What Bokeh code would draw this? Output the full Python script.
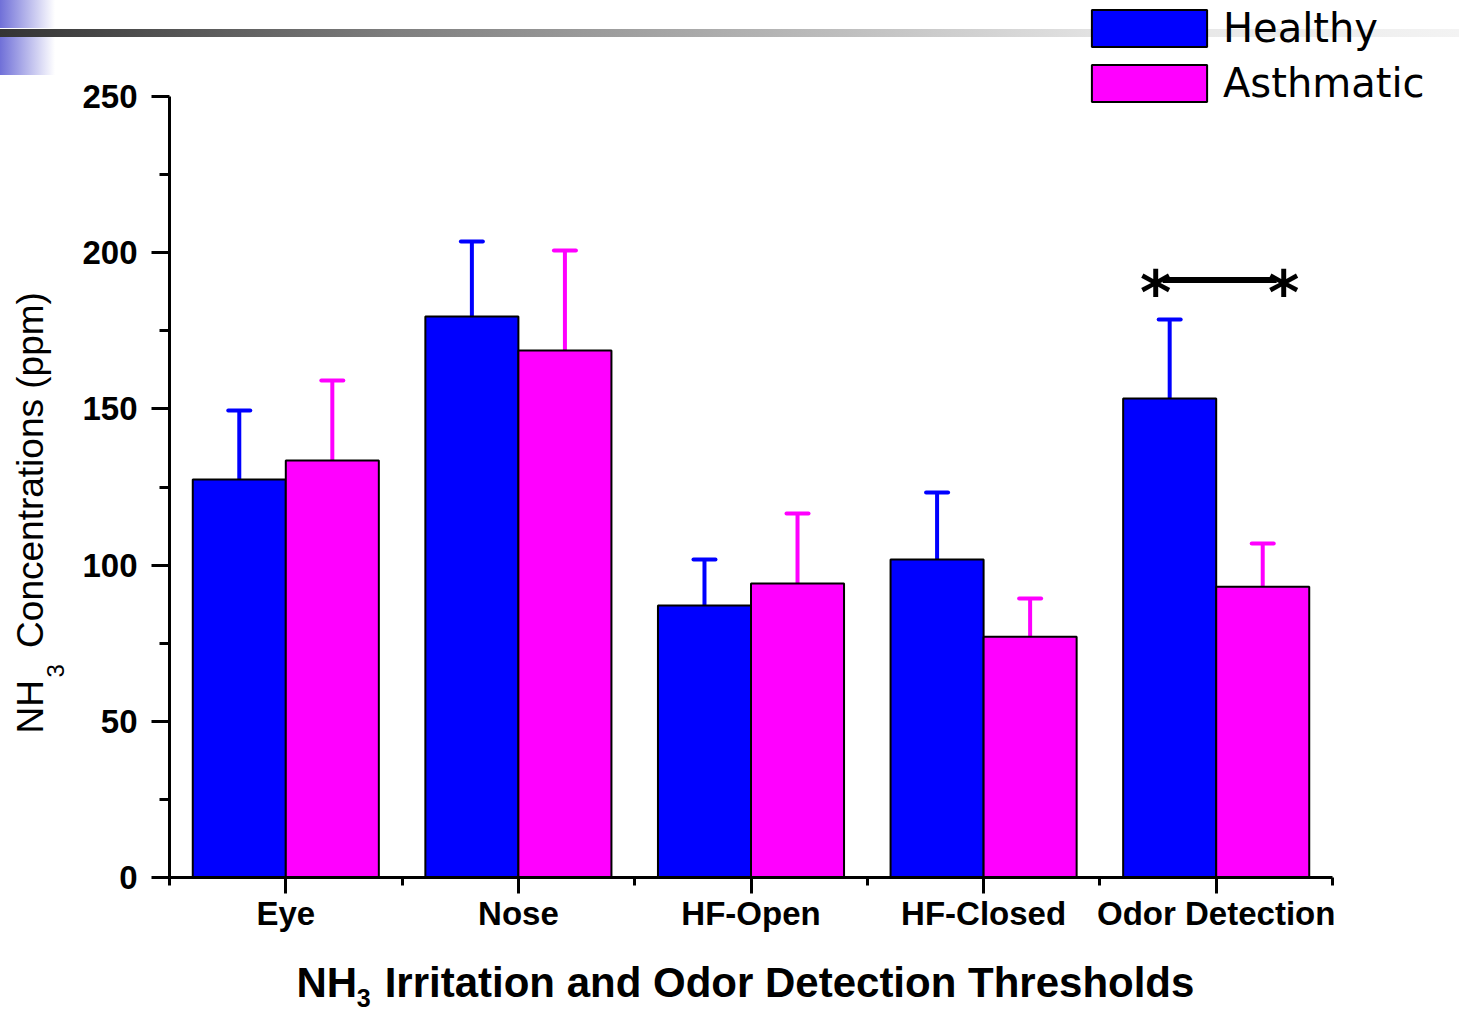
import numpy as np
from bokeh.plotting import figure
from bokeh.models import Range1d, FixedTicker, Label, Legend, LegendItem
from bokeh.core.properties import value
from bokeh.embed import file_html
from bokeh.resources import INLINE

# ---------------- data ----------------
categories = ["Eye", "Nose", "HF-Open", "HF-Closed", "Odor Detection"]
healthy = [127.4, 179.6, 87.1, 101.8, 153.3]
healthy_err = [22.1, 24.0, 14.7, 21.4, 25.3]
asthmatic = [133.5, 168.7, 94.1, 77.1, 93.1]
asthmatic_err = [25.6, 32.0, 22.4, 12.2, 13.8]
y_ticks = [0, 50, 100, 150, 200, 250]
y_minor_ticks = [25, 75, 125, 175, 225]
series_names = ["Healthy", "Asthmatic"]
sig_star_x = [4.74, 5.29]
sig_star_y = [187.0, 187.0]
sig_line_x = [4.77, 5.26]
sig_line_y = [191.3, 191.3]

BLUE = "#0000ff"
MAGENTA = "#ff00ff"
FONT = "Liberation Sans"

W, H = 1459, 1013
# pixel geometry of the plotting area inside the page
AX_L, AX_R, AX_T, AX_B = 169, 1332, 96, 877
x_lo, x_hi = 0.5, len(categories) + 0.5
y_lo, y_hi = 0, 250
sx = (AX_R - AX_L) / (x_hi - x_lo)
sy = (AX_B - AX_T) / (y_hi - y_lo)
x_range = Range1d(x_lo - AX_L / sx, x_hi + (W - AX_R) / sx)
y_range = Range1d(y_lo - (H - AX_B) / sy, y_hi + AX_T / sy)

pos = np.arange(1, len(categories) + 1)
bar_w = 0.4
xh = pos - bar_w / 2
xa = pos + bar_w / 2
h_top = np.array(healthy) + np.array(healthy_err)
a_top = np.array(asthmatic) + np.array(asthmatic_err)

p = figure(width=W, height=H, x_range=x_range, y_range=y_range,
           output_backend="svg", toolbar_location=None, min_border=0)

p.background_fill_color = None
p.border_fill_color = None
p.outline_line_color = None
p.grid.visible = False

# slide decoration behind the transparent canvas
p.styles = {
    "background": (
        "linear-gradient(to right, #343434 0px, #7f7f7f 400px, #e3e3e3 1100px, #f3f3f3 1459px) 0px 29px / 100% 8px no-repeat, "
        "linear-gradient(to right, #7070d8, #ffffff) 0px 0px / 55px 28px no-repeat, "
        "linear-gradient(to right, #7070d8, #ffffff) 0px 37px / 55px 38px no-repeat, "
        "#ffffff"
    )
}

# error bars (drawn first so bar outlines sit on top)
p.segment(x0=xh, y0=healthy, x1=xh, y1=h_top, line_color=BLUE, line_width=4)
p.segment(x0=xa, y0=asthmatic, x1=xa, y1=a_top, line_color=MAGENTA, line_width=4)
p.scatter(x=xh, y=h_top, marker="dash", size=22, line_color=BLUE, line_width=4, line_cap="round")
p.scatter(x=xa, y=a_top, marker="dash", size=22, line_color=MAGENTA, line_width=4, line_cap="round")

rh = p.vbar(x=xh, width=bar_w, top=healthy, bottom=0, fill_color=BLUE,
            line_color="black", line_width=2)
ra = p.vbar(x=xa, width=bar_w, top=asthmatic, bottom=0, fill_color=MAGENTA,
            line_color="black", line_width=2)

# significance marker
p.line(x=sig_line_x, y=sig_line_y, line_color="black", line_width=6)
p.text(x=sig_star_x, y=sig_star_y, text=["*", "*"], text_font=value("DejaVu Sans"),
       text_font_size="60px", text_font_style="bold", text_align="center",
       text_baseline="middle", text_color="black")

# axes (pinned to the data origin, line limited to the data extent)
xaxis = p.xaxis[0]
xaxis.fixed_location = y_lo
xaxis.bounds = (x_lo, x_hi)
xaxis.ticker = FixedTicker(ticks=list(pos), minor_ticks=list(np.arange(x_lo, x_hi + 0.01, 1.0)))
xaxis.major_label_overrides = {int(i): c for i, c in zip(pos, categories)}
yaxis = p.yaxis[0]
yaxis.fixed_location = x_lo
yaxis.bounds = (y_lo, y_hi)
yaxis.ticker = FixedTicker(ticks=y_ticks, minor_ticks=y_minor_ticks)

for ax in (xaxis, yaxis):
    ax.axis_line_width = 3
    ax.major_tick_line_width = 3
    ax.minor_tick_line_width = 3
    ax.major_tick_in = 0
    ax.minor_tick_in = 0
    ax.major_label_text_font = FONT
    ax.major_label_text_font_style = "bold"
    ax.major_label_text_font_size = "33px"
    ax.major_label_text_color = "black"
    ax.axis_line_color = "black"
    ax.major_tick_line_color = "black"
    ax.minor_tick_line_color = "black"

xaxis.major_tick_out = 16
xaxis.minor_tick_out = 8
xaxis.major_label_standoff = 1
yaxis.major_tick_out = 18
yaxis.minor_tick_out = 10
yaxis.major_label_standoff = 14

# axis titles with subscripts
def lab(x, y, text, size, bold=True, angle=0.0):
    p.add_layout(Label(x=x, y=y, text=text, text_font=FONT, text_font_size=size,
                       text_font_style="bold" if bold else "normal", angle=angle,
                       text_align="left", text_baseline="alphabetic", text_color="black"))

lab(1.046, -33.6, "NH", "42px")
lab(1.305, -38.6, "3", "25px")
lab(1.425, -33.6, "Irritation and Odor Detection Thresholds", "42px")

lab(-0.099, 46.1, "NH", "37px", bold=False, angle=np.pi / 2)
lab(0.008, 64.0, "3", "24px", bold=False, angle=np.pi / 2)
lab(-0.099, 73.5, "Concentrations (ppm)", "37px", bold=False, angle=np.pi / 2)

# legend (top-right, above the plotting area)
legend = Legend(items=[LegendItem(label=series_names[0], renderers=[rh]),
                       LegendItem(label=series_names[1], renderers=[ra])],
                location=(1077, 907), orientation="vertical",
                glyph_width=144, glyph_height=46, spacing=9,
                label_standoff=2, padding=0, margin=0,
                label_text_font="DejaVu Sans", label_text_font_size="40px",
                label_text_color="black",
                border_line_color=None, background_fill_color=None)
p.add_layout(legend, "center")

open("out.html", "w").write(file_html(p, INLINE))
